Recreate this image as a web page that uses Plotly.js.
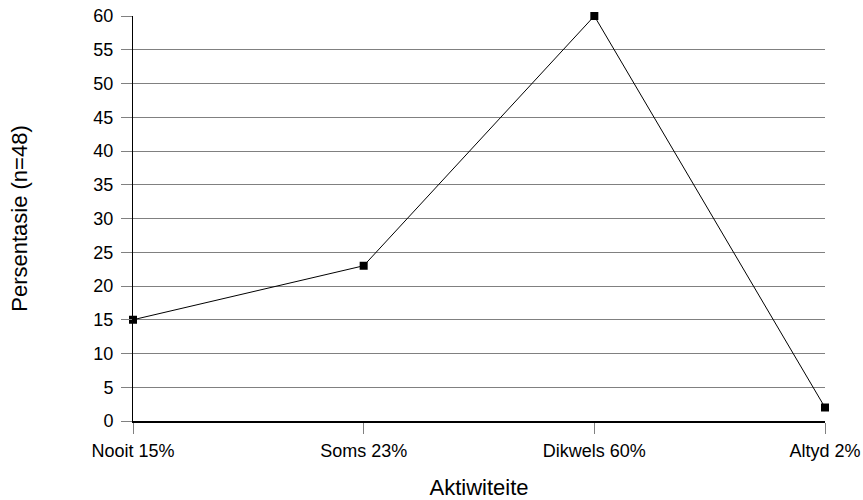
<!DOCTYPE html>
<html>
<head>
<meta charset="utf-8">
<script src="https://cdn.plot.ly/plotly-3.0.1.min.js"></script>
<style>html,body{margin:0;padding:0;background:#fff;}#chart{width:863px;height:500px;}</style>
</head>
<body>
<div id="chart"></div>
<script>
const categories = ["Nooit 15%", "Soms 23%", "Dikwels 60%", "Altyd 2%"];
const values = [15, 23, 60, 2];
const yTicks = [0, 5, 10, 15, 20, 25, 30, 35, 40, 45, 50, 55, 60];

const trace = {
  x: categories,
  y: values,
  type: "scatter",
  mode: "lines+markers",
  line: {color: "#000", width: 1},
  marker: {symbol: "square", size: 8, color: "#000"},
  cliponaxis: false,
  hoverinfo: "skip"
};

const layout = {
  width: 863,
  height: 500,
  margin: {l: 133, r: 38, t: 16, b: 79},
  paper_bgcolor: "#fff",
  plot_bgcolor: "#fff",
  showlegend: false,
  font: {family: "Liberation Sans, Arial, sans-serif", size: 18, color: "#000"},
  xaxis: {
    type: "category",
    range: [0, 3],
    showgrid: false,
    zeroline: false,
    showline: true,
    linecolor: "#000",
    linewidth: 1.5,
    ticks: "outside",
    ticklen: 11,
    tickcolor: "#808080",
    ticklabelstandoff: 2,
    tickfont: {size: 18, color: "#000"},
    title: {text: "Aktiwiteite", font: {size: 22, color: "#000"}, standoff: 22}
  },
  yaxis: {
    range: [0, 60],
    tickvals: yTicks,
    ticktext: yTicks.map(String),
    showgrid: true,
    gridcolor: "#808080",
    gridwidth: 1,
    zeroline: false,
    showline: true,
    linecolor: "#000",
    linewidth: 1,
    ticks: "outside",
    ticklen: 11,
    tickcolor: "#808080",
    ticklabelstandoff: 4,
    tickfont: {size: 18, color: "#000"},
    title: {text: "Persentasie (n=48)", font: {size: 22, color: "#000"}, standoff: 59}
  }
};

Plotly.newPlot("chart", [trace], layout, {displayModeBar: false, staticPlot: true});
</script>
</body>
</html>
